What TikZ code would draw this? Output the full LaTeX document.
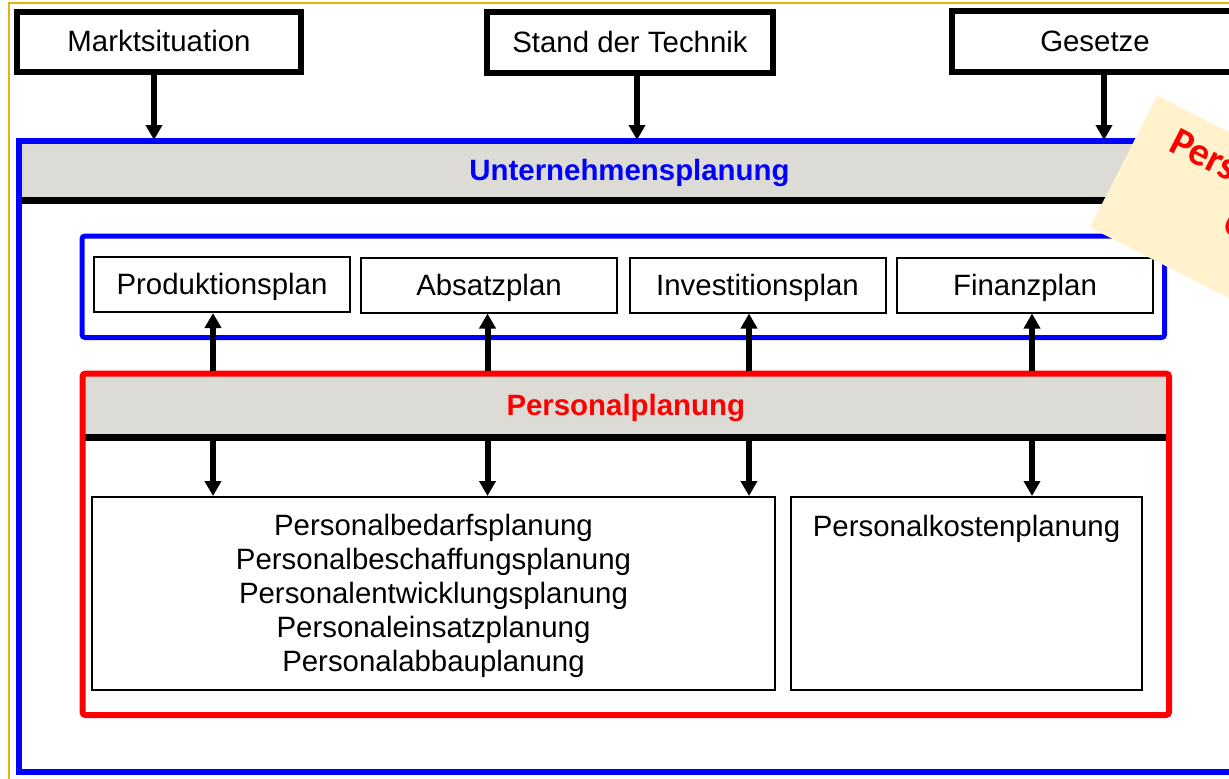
\documentclass[tikz,border=0pt]{standalone}
\usepackage{fontspec}
\setmainfont{Liberation Sans}
\newfontfamily\notefont{Carlito}
\usetikzlibrary{arrows.meta}
\definecolor{bandgray}{RGB}{221,219,214}
\definecolor{frameor}{RGB}{230,178,20}
\definecolor{noteyel}{RGB}{255,242,204}
\definecolor{pblue}{RGB}{0,0,255}
\definecolor{pred}{RGB}{255,0,0}
\newcommand\mainsize{\fontsize{14.7}{17}\selectfont}
\begin{document}
\begin{tikzpicture}[x=0.5pt,y=-0.5pt,
  lowtext/.style={text height=11pt,text depth=1pt},
  topbox/.style={draw=black,line width=3pt,fill=white,inner sep=0pt,font=\mainsize,lowtext},
  band/.style={fill=bandgray,inner sep=0pt,font=\mainsize\bfseries,lowtext},
  planbox/.style={draw=black,line width=1pt,fill=white,inner sep=0pt,minimum width=128pt,minimum height=27.5pt,font=\mainsize,lowtext},
  lowbox/.style={draw=black,line width=1pt,fill=white,inner sep=0pt,minimum height=96.5pt},
  arr/.style={line width=3pt,-{Triangle[length=7.5pt,width=8pt]}},
  sepline/.style={draw=black,line width=3.2pt},
  notetxt/.style={font=\notefont\fontsize{20}{24}\selectfont\bfseries,text=pred,rotate=-27,inner sep=0pt}
]
\useasboundingbox (0,0) rectangle (1229,778);
\clip (0,0) rectangle (1229,778);
\fill[white] (0,0) rectangle (1229,778);
% outer frame
\draw[frameor,line width=1pt] (8.5,2.5) rectangle (1300,820);
% top boxes
\node[topbox,minimum width=142pt,minimum height=30pt] (markt) at (159,41.5) {Marktsituation};
\node[topbox,minimum width=143pt,minimum height=30.5pt] (stand) at (630,42.5) {Stand der Technik};
\node[topbox,minimum width=143pt,minimum height=30.5pt] (gesetz) at (1095,41) {Gesetze};
% Unternehmensplanung
\node[band,text=pblue,minimum width=610.5pt,minimum height=29.5pt] (upband) at (629.5,170.5) {Unternehmensplanung};
\draw[sepline] (upband.south west) -- (upband.south east);
\node[draw=pblue,line width=3pt,inner sep=0pt,minimum width=610.5pt,minimum height=315.5pt] (up) at (629.5,456.5) {};
% inner blue frame with plans
\node[draw=pblue,line width=2.5pt,rounded corners=1.5pt,inner sep=0pt,minimum width=541.25pt,minimum height=50.75pt] (ub) at (623.25,286.75) {};
\node[planbox] (prod) at (222,284.5) {Produktionsplan};
\node[planbox] (absatz) at (489,285) {Absatzplan};
\node[planbox] (invest) at (757.5,285) {Investitionsplan};
\node[planbox] (finanz) at (1025,285) {Finanzplan};
% Personalplanung
\node[band,text=pred,minimum width=543.25pt,minimum height=31.75pt] (ppband) at (625.75,405.25) {Personalplanung};
\draw[sepline] ([xshift=1.5pt]ppband.south west) -- ([xshift=-1.5pt]ppband.south east);
\node[draw=pred,line width=3pt,rounded corners=1.5pt,inner sep=0pt,minimum width=543.25pt,minimum height=170.75pt] (pp) at (625.75,544.25) {};
% lower boxes
\node[lowbox,minimum width=341.5pt] (lbox) at (433.5,593.5) {};
\node[font=\mainsize,align=center,inner sep=0pt] (ltext) at (433.5,595.5) {Personalbedarfsplanung\\Personalbeschaffungsplanung\\Personalentwicklungsplanung\\Personaleinsatzplanung\\Personalabbauplanung};
\node[lowbox,minimum width=175.5pt] (rbox) at (966.5,593.5) {};
\node[font=\mainsize,inner sep=0pt,lowtext] (rtext) at (966.5,526) {Personalkostenplanung};
% arrow positions
\coordinate (t1) at (154,0);
\coordinate (t2) at (637,0);
\coordinate (t3) at (1104,0);
\coordinate (c1) at (213,0);
\coordinate (c2) at (487.5,0);
\coordinate (c3) at (749,0);
\coordinate (c4) at (1032,0);
% top arrows
\draw[arr] (t1 |- markt.south) -- ([yshift=-1pt]t1 |- up.north);
\draw[arr] (t2 |- stand.south) -- ([yshift=-1pt]t2 |- up.north);
\draw[arr] (t3 |- gesetz.south) -- ([yshift=-1pt]t3 |- up.north);
% up arrows
\draw[arr] (c1 |- pp.north) -- (c1 |- prod.south);
\draw[arr] (c2 |- pp.north) -- (c2 |- absatz.south);
\draw[arr] (c3 |- pp.north) -- (c3 |- invest.south);
\draw[arr] (c4 |- pp.north) -- (c4 |- finanz.south);
% down arrows
\draw[arr] (c1 |- ppband.south) -- (c1 |- lbox.north);
\draw[arr] (c2 |- ppband.south) -- (c2 |- lbox.north);
\draw[arr] (c3 |- ppband.south) -- (c3 |- lbox.north);
\draw[arr] (c4 |- ppband.south) -- (c4 |- rbox.north);
% sticky note
\node[fill=noteyel,rotate=-27,anchor=north west,inner sep=0pt,minimum width=170pt,minimum height=74pt] (note) at (1157,95) {};
\node[notetxt,anchor=base west] (n1) at (1167,150) {Perso};
\node[notetxt,anchor=base west] (n2) at (1220,230) {U};
\end{tikzpicture}
\end{document}
